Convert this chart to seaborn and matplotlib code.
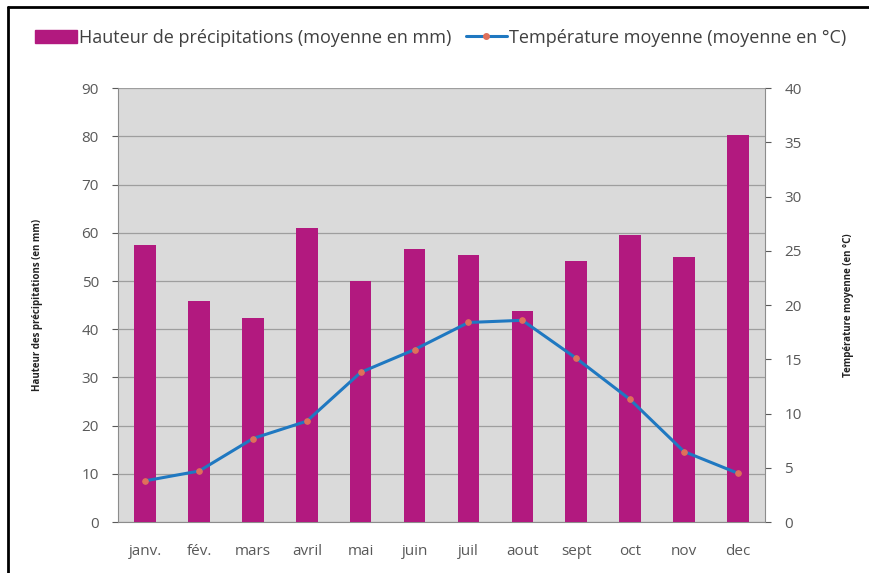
import numpy as np
import pandas as pd
import matplotlib
matplotlib.use("Agg")
import matplotlib.pyplot as plt
import seaborn as sns
from matplotlib.patches import Rectangle
from matplotlib.lines import Line2D

# monthly data
mois = ["janv.", "fév.", "mars", "avril", "mai", "juin",
        "juil", "aout", "sept", "oct", "nov", "dec"]
precip = [57.5, 45.8, 42.3, 61.0, 50.0, 56.6, 55.5, 43.8, 54.2, 59.6, 55.0, 80.3]
temp = [3.8, 4.7, 7.7, 9.3, 13.8, 15.9, 18.4, 18.6, 15.1, 11.3, 6.5, 4.5]

df = pd.DataFrame({"mois": mois, "precip": precip, "temp": temp, "pos": np.arange(len(mois))})

sns.set_style("white")
plt.rcParams["font.family"] = ["Open Sans", "DejaVu Sans"]

bar_col = "#B2197F"
line_col = "#1F78C1"
grey = "#595959"

fig = plt.figure(figsize=(8.7, 5.73), dpi=100)
ax = fig.add_axes([0.136, 0.089, 0.743, 0.757])
ax.set_facecolor("#DADADA")

sns.barplot(data=df, x="mois", y="precip", color=bar_col, saturation=1, width=0.4,
            linewidth=0, ax=ax, zorder=3)
ax.set_ylim(0, 90)
ax.set_yticks(range(0, 91, 10))
ax.yaxis.grid(True, color="#9E9E9E", linewidth=0.9, zorder=0)
ax.set_axisbelow(True)
ax.set_xlabel("")
ax.set_ylabel("Hauteur des précipitations (en mm)", fontsize=7, fontweight="bold", color="#222222", labelpad=28)
ax.set_xlim(-0.5, 11.5)

ax2 = ax.twinx()
sns.lineplot(data=df, x="pos", y="temp", color=line_col, linewidth=2.2, marker="o", markersize=4,
             markerfacecolor="#E0705A", markeredgecolor="#E0705A", ax=ax2, zorder=4)
ax2.set_ylim(0, 40)
ax2.set_yticks(range(0, 41, 5))
ax2.set_ylabel("Température moyenne (en °C)", fontsize=7, fontweight="bold", color="#222222", labelpad=30)
ax2.set_xlim(-0.5, 11.5)

for a in (ax, ax2):
    for s in a.spines.values():
        s.set_visible(False)
    a.tick_params(axis="y", colors=grey, labelsize=11, length=4, width=0.8, direction="out", pad=10)
ax.tick_params(axis="x", colors=grey, labelsize=11, length=0, pad=16)
ax.spines["left"].set_visible(True)
ax.spines["left"].set_color("#8C8C8C")
ax.spines["bottom"].set_visible(True)
ax.spines["bottom"].set_color("#8C8C8C")
ax2.spines["right"].set_visible(True)
ax2.spines["right"].set_color("#8C8C8C")
ax.tick_params(axis="y", left=True)
ax2.tick_params(axis="y", right=True)

handles = [Rectangle((0, 0), 1, 1, color=bar_col),
           Line2D([0], [0], color=line_col, linewidth=2.2, marker="o", markersize=4,
                  markerfacecolor="#E0705A", markeredgecolor="#E0705A")]
fig.legend(handles, ["Hauteur de précipitations (moyenne en mm)", "Température moyenne (moyenne en °C)"],
           loc="center left", bbox_to_anchor=(0.022, 0.934), ncol=2, frameon=False, fontsize=13,
           labelcolor="#404040", handlelength=2.3, handletextpad=0.1, columnspacing=0.8)

# black frame of the original screenshot
fig.add_artist(Line2D([0.009, 0.009], [0, 0.988], transform=fig.transFigure, color="black", linewidth=2))
fig.add_artist(Line2D([0.009, 1.0], [0.988, 0.988], transform=fig.transFigure, color="black", linewidth=2))

fig.savefig("out.png", dpi=100)
